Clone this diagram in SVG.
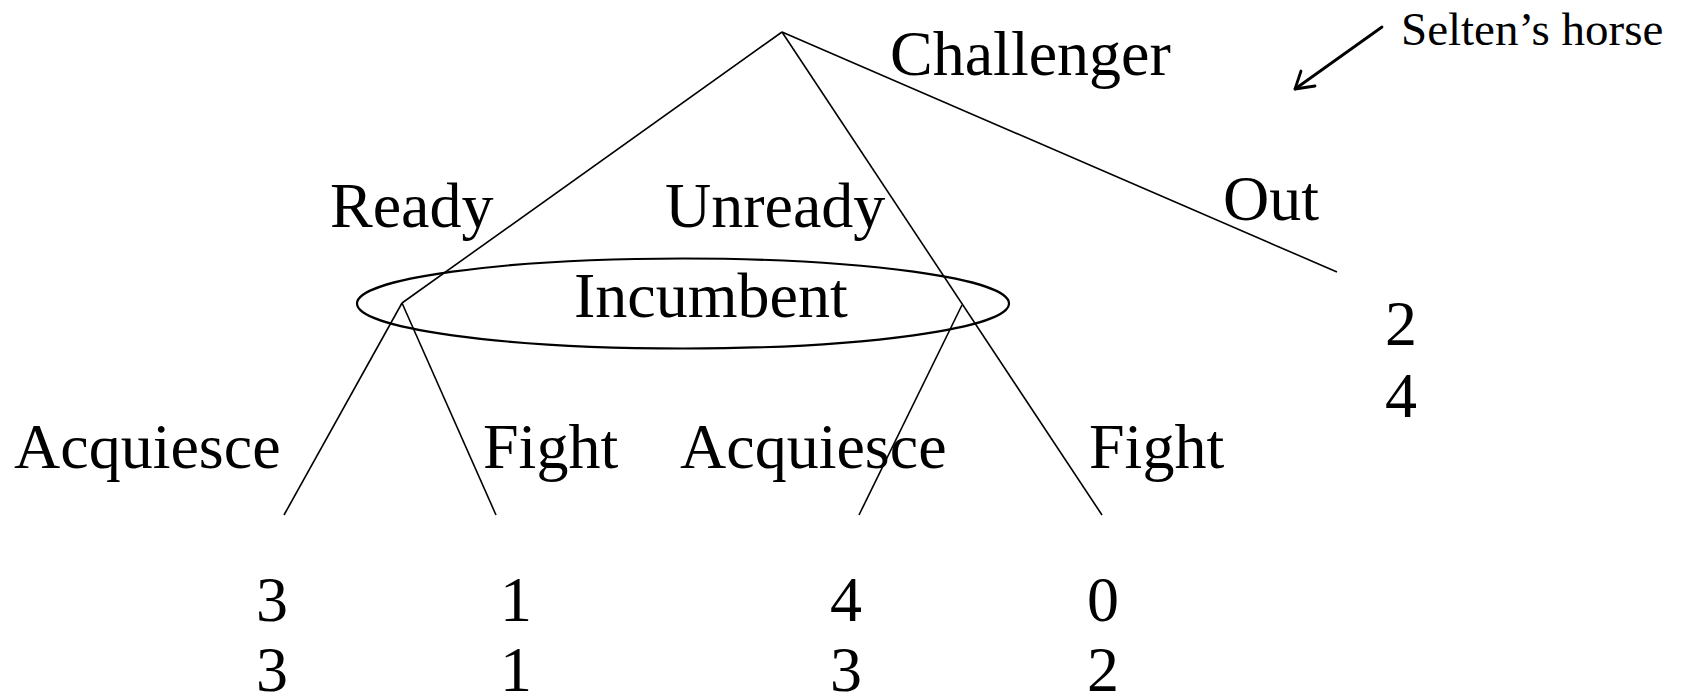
<svg xmlns="http://www.w3.org/2000/svg" width="1687" height="698" viewBox="0 0 1687 698">
  <style>
    text { font-family: "Liberation Serif", "Times New Roman", serif; fill: #000; }
    .lbl { font-size: 64px; }
    .note { font-size: 47px; }
    .edge { stroke: #000; stroke-width: 1.6; fill: none; }
    .info { stroke: #000; stroke-width: 2.2; fill: none; }
    .pointer { stroke: #000; stroke-width: 2.8; fill: none; stroke-linecap: round; stroke-linejoin: round; }
  </style>

  <!-- branches of the game tree -->
  <g id="connectors">
    <line class="edge" x1="782" y1="32" x2="402" y2="303"/>
    <line class="edge" x1="782" y1="32" x2="1102" y2="515"/>
    <line class="edge" x1="782" y1="32" x2="1337" y2="272"/>
    <line class="edge" x1="402" y1="303" x2="284" y2="515"/>
    <line class="edge" x1="402" y1="303" x2="496" y2="515"/>
    <line class="edge" x1="962" y1="305" x2="859" y2="515"/>
  </g>

  <!-- first mover -->
  <g id="challenger">
    <text class="lbl" x="890" y="75">Challenger</text>
  </g>

  <!-- action labels -->
  <g id="ready"><text class="lbl" x="330" y="227">Ready</text></g>
  <g id="unready"><text class="lbl" x="665" y="227">Unready</text></g>
  <g id="out"><text class="lbl" x="1223" y="220">Out</text></g>

  <!-- information set of the second mover -->
  <g id="incumbent">
    <ellipse class="info" cx="683" cy="303.5" rx="326" ry="45"/>
    <text class="lbl" x="574" y="317">Incumbent</text>
  </g>

  <g id="acquiesce-left"><text class="lbl" x="14" y="468">Acquiesce</text></g>
  <g id="fight-left"><text class="lbl" x="483" y="468">Fight</text></g>
  <g id="acquiesce-right"><text class="lbl" x="680" y="468">Acquiesce</text></g>
  <g id="fight-right"><text class="lbl" x="1089" y="468">Fight</text></g>

  <!-- payoffs -->
  <g id="payoff-out">
    <text class="lbl" x="1385" y="345">2</text>
    <text class="lbl" x="1385" y="417">4</text>
  </g>
  <g id="payoff-1">
    <text class="lbl" x="256" y="621">3</text>
    <text class="lbl" x="256" y="691">3</text>
  </g>
  <g id="payoff-2">
    <text class="lbl" x="500" y="621">1</text>
    <text class="lbl" x="500" y="691">1</text>
  </g>
  <g id="payoff-3">
    <text class="lbl" x="830" y="621">4</text>
    <text class="lbl" x="830" y="691">3</text>
  </g>
  <g id="payoff-4">
    <text class="lbl" x="1087" y="621">0</text>
    <text class="lbl" x="1087" y="691">2</text>
  </g>

  <!-- annotation -->
  <g id="selten-note">
    <text class="note" x="1401" y="45">Selten’s horse</text>
    <line class="pointer" x1="1382" y1="27" x2="1295" y2="89"/>
    <polyline class="pointer" points="1301,71 1295,89 1315,86"/>
  </g>
</svg>
